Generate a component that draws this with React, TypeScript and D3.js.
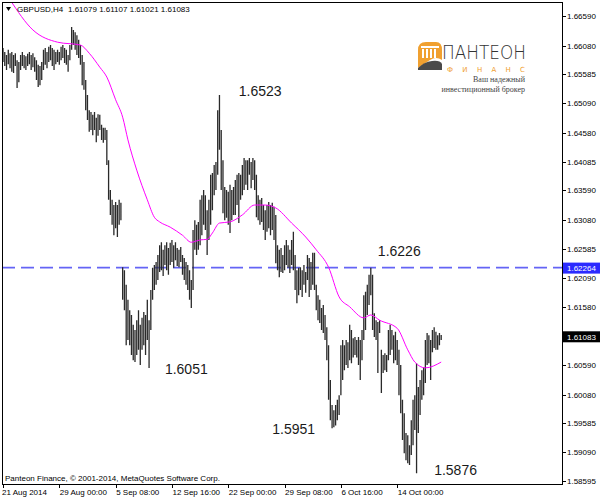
import React from "react";
import * as d3 from "d3";

const highs = [
  1.6604, 1.6597, 1.6592, 1.6601, 1.6595, 1.6597, 1.6592, 1.6595, 1.6583, 1.6580,
  1.6592, 1.6597, 1.6592, 1.6590, 1.6594, 1.6597, 1.6592, 1.6595, 1.6588, 1.6583,
  1.6575, 1.6573, 1.6580, 1.6601, 1.6604, 1.6597, 1.6606, 1.6609, 1.6604, 1.6601,
  1.6597, 1.6601, 1.6597, 1.6606, 1.6609, 1.6604, 1.6601, 1.6592, 1.6609, 1.6640,
  1.6635, 1.6631, 1.6626, 1.6618, 1.6609, 1.6592, 1.6580, 1.6549, 1.6523, 1.6497,
  1.6494, 1.6489, 1.6494, 1.6484, 1.6490, 1.6489, 1.6472, 1.6467, 1.6467, 1.6463,
  1.6411, 1.6360, 1.6343, 1.6334, 1.6339, 1.6334, 1.6343, 1.6338, 1.6227, 1.6222,
  1.6197, 1.6171, 1.6153, 1.6145, 1.6128, 1.6119, 1.6136, 1.6153, 1.6128, 1.6140,
  1.6150, 1.6145, 1.6171, 1.6136, 1.6188, 1.6226, 1.6231, 1.6236, 1.6248, 1.6265,
  1.6270, 1.6257, 1.6265, 1.6270, 1.6260, 1.6269, 1.6274, 1.6265, 1.6270, 1.6260,
  1.6257, 1.6262, 1.6248, 1.6243, 1.6236, 1.6231, 1.6222, 1.6205, 1.6291, 1.6308,
  1.6300, 1.6305, 1.6343, 1.6351, 1.6360, 1.6351, 1.6325, 1.6343, 1.6386, 1.6389,
  1.6403, 1.6408, 1.6497, 1.6523, 1.6463, 1.6411, 1.6365, 1.6360, 1.6357, 1.6369,
  1.6360, 1.6365, 1.6377, 1.6386, 1.6389, 1.6386, 1.6403, 1.6415, 1.6411, 1.6411,
  1.6415, 1.6408, 1.6415, 1.6411, 1.6386, 1.6351, 1.6343, 1.6346, 1.6334, 1.6325,
  1.6334, 1.6339, 1.6334, 1.6338, 1.6331, 1.6317, 1.6265, 1.6257, 1.6260, 1.6248,
  1.6265, 1.6274, 1.6265, 1.6257, 1.6274, 1.6288, 1.6248, 1.6222, 1.6226, 1.6227,
  1.6222, 1.6231, 1.6219, 1.6248, 1.6243, 1.6236, 1.6252, 1.6252, 1.6197, 1.6179,
  1.6171, 1.6157, 1.6162, 1.6145, 1.6124, 1.6093, 1.6033, 1.5990, 1.5981, 1.5990,
  1.5999, 1.6007, 1.6093, 1.6102, 1.6093, 1.6102, 1.6098, 1.6128, 1.6119, 1.6105,
  1.6107, 1.6102, 1.6107, 1.6102, 1.6119, 1.6179, 1.6185, 1.6197, 1.6214, 1.6226,
  1.6214, 1.6148, 1.6136, 1.6133, 1.6136, 1.6085, 1.6076, 1.6079, 1.6076, 1.6119,
  1.6128, 1.6119, 1.6110, 1.6116, 1.6102, 1.6085, 1.6059, 1.5999, 1.5976, 1.5942,
  1.5938, 1.5921, 1.5964, 1.5999, 1.6007, 1.6062, 1.6021, 1.6033, 1.6050, 1.6055,
  1.6102, 1.6114, 1.6110, 1.6102, 1.6119, 1.6124, 1.6116, 1.6110, 1.6114, 1.61107,
];

const lows = [
  1.6580, 1.6573, 1.6566, 1.6576, 1.6569, 1.6563, 1.6561, 1.6573, 1.6535, 1.6545,
  1.6566, 1.6573, 1.6569, 1.6566, 1.6573, 1.6576, 1.6566, 1.6571, 1.6563, 1.6549,
  1.6537, 1.6540, 1.6549, 1.6566, 1.6575, 1.6569, 1.6580, 1.6583, 1.6573, 1.6566,
  1.6576, 1.6580, 1.6575, 1.6583, 1.6587, 1.6578, 1.6575, 1.6563, 1.6583, 1.6601,
  1.6609, 1.6601, 1.6592, 1.6587, 1.6575, 1.6540, 1.6532, 1.6497, 1.6480, 1.6460,
  1.6463, 1.6454, 1.6463, 1.6442, 1.6453, 1.6463, 1.6446, 1.6441, 1.6446, 1.6403,
  1.6343, 1.6317, 1.6300, 1.6282, 1.6294, 1.6279, 1.6300, 1.6308, 1.6171, 1.6153,
  1.6093, 1.6102, 1.6093, 1.6076, 1.6067, 1.6064, 1.6076, 1.6085, 1.6059, 1.6085,
  1.6093, 1.6076, 1.6102, 1.6054, 1.6119, 1.6171, 1.6188, 1.6197, 1.6205, 1.6219,
  1.6222, 1.6212, 1.6231, 1.6222, 1.6214, 1.6231, 1.6236, 1.6226, 1.6239, 1.6229,
  1.6227, 1.6236, 1.6214, 1.6205, 1.6197, 1.6188, 1.6171, 1.6157, 1.6188, 1.6257,
  1.6248, 1.6257, 1.6265, 1.6282, 1.6300, 1.6291, 1.6248, 1.6274, 1.6300, 1.6325,
  1.6351, 1.6360, 1.6386, 1.6429, 1.6360, 1.6320, 1.6308, 1.6312, 1.6300, 1.6286,
  1.6308, 1.6317, 1.6317, 1.6334, 1.6303, 1.6343, 1.6351, 1.6360, 1.6369, 1.6360,
  1.6386, 1.6363, 1.6377, 1.6360, 1.6313, 1.6308, 1.6300, 1.6305, 1.6291, 1.6274,
  1.6288, 1.6294, 1.6282, 1.6291, 1.6274, 1.6234, 1.6222, 1.6210, 1.6219, 1.6217,
  1.6222, 1.6231, 1.6226, 1.6217, 1.6231, 1.6222, 1.6188, 1.6165, 1.6179, 1.6188,
  1.6176, 1.6197, 1.6183, 1.6205, 1.6176, 1.6188, 1.6197, 1.6188, 1.6153, 1.6136,
  1.6131, 1.6119, 1.6114, 1.6102, 1.6067, 1.5999, 1.5964, 1.5950, 1.5952, 1.5955,
  1.5964, 1.5973, 1.6007, 1.6033, 1.6050, 1.6059, 1.6054, 1.6067, 1.6062, 1.6072,
  1.6076, 1.6072, 1.6059, 1.6033, 1.6067, 1.6102, 1.6119, 1.6145, 1.6162, 1.6179,
  1.6119, 1.6107, 1.6102, 1.6045, 1.6114, 1.6011, 1.6045, 1.6050, 1.6047, 1.6067,
  1.6076, 1.6085, 1.6062, 1.6067, 1.6059, 1.6007, 1.5976, 1.5930, 1.5907, 1.5895,
  1.5890, 1.5887, 1.5904, 1.5921, 1.5947, 1.5873, 1.5942, 1.5973, 1.5999, 1.6007,
  1.6028, 1.6059, 1.6062, 1.6033, 1.6081, 1.6088, 1.6085, 1.6085, 1.6093, 1.61021,
];

const maBars = [4, 17, 31, 44, 49, 55, 59, 64, 68, 71, 76, 82, 86, 89, 95, 102, 107, 112, 116, 119, 123, 129, 136, 143, 149, 155, 164, 172, 178, 185, 191, 197, 205, 209, 214, 224, 230, 234, 240, 249];
const maValues = [1.6687, 1.6635, 1.6614, 1.6609, 1.6595, 1.6571, 1.6554, 1.6515, 1.6485, 1.6446, 1.6394, 1.6343, 1.6313, 1.6305, 1.6296, 1.6282, 1.6270, 1.6274, 1.6275, 1.6286, 1.6303, 1.6305, 1.6317, 1.6334, 1.6334, 1.6329, 1.6303, 1.6279, 1.6257, 1.6227, 1.6176, 1.6159, 1.6140, 1.6145, 1.6136, 1.6122, 1.6085, 1.6064, 1.6054, 1.6064];

const yTicks = [1.6659, 1.6608, 1.65585, 1.6509, 1.6458, 1.64085, 1.6359, 1.6308, 1.62585, 1.6209, 1.6158, 1.6059, 1.6008, 1.59585, 1.5909, 1.58595];

const xTickBars = [0, 32, 64, 96, 128, 160, 192, 224];
const xTickLabels = ["21 Aug 2014", "29 Aug 00:00", "5 Sep 08:00", "12 Sep 16:00", "22 Sep 00:00", "29 Sep 08:00", "6 Oct 16:00", "14 Oct 00:00"];

const levelPrice = 1.62264;
const lastClose = 1.61083;
const headerSymbol = "GBPUSD,H4";
const headerValues = "1.61079 1.61107 1.61021 1.61083";

const annotations = [
  { text: "1.6523", bar: 134, price: 1.6521 },
  { text: "1.6051", bar: 92, price: 1.6044 },
  { text: "1.5951", bar: 153, price: 1.5941 },
  { text: "1.5876", bar: 245, price: 1.5870 },
  { text: "1.6226", bar: 213, price: 1.6246 },
];

const PL = 2, PT = 2, PR = 562, PB = 484;

export default function App() {
  const x = d3.scaleLinear().domain([0, 249]).range([3, 441.2]);
  const y = d3.scaleLinear().domain([1.58595, 1.6659]).range([481, 16]);
  const fmt = d3.format(".5f");
  const axisFont = "'Liberation Sans', Arial, sans-serif";

  const maLine = d3
    .line<number>()
    .x((_, i) => x(maBars[i]))
    .y((d) => y(d))
    .curve(d3.curveMonotoneX)(maValues);

  const barPath = highs
    .map((h, i) => `M${x(i).toFixed(2)},${y(h).toFixed(2)}V${y(lows[i]).toFixed(2)}`)
    .join("");

  return (
    <svg
      width={600}
      height={500}
      style={{ position: "fixed", left: 0, top: 0, background: "#fff" }}
      fontFamily={axisFont}
    >
      <defs>
        <clipPath id="plot">
          <rect x={PL + 1} y={PT + 1} width={PR - PL - 1} height={PB - PT - 1} />
        </clipPath>
      </defs>
      <rect x={0} y={0} width={600} height={500} fill="#fff" />

      {/* Logo */}
      <g>
        <path d="M418,68 L418,50 Q418,42 426,42 L436,42 Q442,42 442,50 L442,60 Q436,56 430,60 Q424,64 418,68 Z" fill="#f0a030" />
        <rect x={421} y={46} width={18} height={2} fill="#fff" />
        {[422, 426, 430, 434].map((cx) => (
          <rect key={cx} x={cx} y={49} width={2} height={9} fill="#fff" />
        ))}
        <path d="M418,68 Q424,62 432,61 Q440,60 442,64 L442,70 L418,70 Z" fill="#4a4a4a" />
        <text x={442} y={59} fontSize={20} fill="#333" textLength={84} lengthAdjust="spacingAndGlyphs" fontFamily="'DejaVu Sans', sans-serif" fontWeight={300}>
          ПАНТЕОН
        </text>
        <text x={447} y={72} fontSize={7} fill="#f0a030" textLength={78} fontFamily="'DejaVu Sans', sans-serif">
          Ф И Н А Н С
        </text>
        <text x={525} y={82} fontSize={8} fill="#444" textAnchor="end" fontFamily="'Liberation Serif', serif">
          Ваш надежный
        </text>
        <text x={525} y={92} fontSize={8} fill="#444" textAnchor="end" fontFamily="'Liberation Serif', serif">
          инвестиционный брокер
        </text>
      </g>

      {/* Level line */}
      <line x1={PL} x2={PR} y1={y(levelPrice)} y2={y(levelPrice)} stroke="#6464f5" strokeWidth={1.6} strokeDasharray="13,6" />

      <g clipPath="url(#plot)">
        <path d={barPath} stroke="#2a2a2a" strokeWidth={1.3} fill="none" />
        <path d={maLine || ""} stroke="#ff00ff" strokeWidth={1} fill="none" />
      </g>

      {/* Frame */}
      <rect x={PL + 0.5} y={PT + 0.5} width={PR - PL} height={PB - PT} fill="none" stroke="#000" strokeWidth={1} />

      {/* Right axis */}
      {yTicks.map((t) => (
        <g key={t}>
          <line x1={PR} x2={PR + 4} y1={Math.round(y(t)) + 0.5} y2={Math.round(y(t)) + 0.5} stroke="#000" />
          <text x={PR + 5} y={y(t) + 3} fontSize={8} fill="#000">
            {fmt(t)}
          </text>
        </g>
      ))}
      <rect x={PR + 1} y={y(levelPrice) - 5} width={37} height={11} fill="#2b2bff" />
      <text x={PR + 5} y={y(levelPrice) + 3.5} fontSize={8} fill="#fff">
        {fmt(levelPrice)}
      </text>
      <rect x={PR + 1} y={y(lastClose) - 5} width={37} height={11} fill="#000" />
      <text x={PR + 5} y={y(lastClose) + 3.5} fontSize={8} fill="#fff">
        {fmt(lastClose)}
      </text>

      {/* Bottom axis */}
      {xTickBars.map((b, i) => (
        <g key={b}>
          <line x1={Math.round(x(b)) + 0.5} x2={Math.round(x(b)) + 0.5} y1={PB} y2={PB + 4} stroke="#000" />
          <text x={x(b) - (i === 0 ? 1 : -0.5)} y={495} fontSize={8} fill="#000">
            {xTickLabels[i]}
          </text>
        </g>
      ))}

      {/* Header */}
      <path d="M6,7 L11,7 L8.5,11 Z" fill="#000" />
      <text x={17} y={12} fontSize={8} fill="#000">{headerSymbol}</text>
      <text x={68} y={12} fontSize={8} fill="#000">{headerValues}</text>

      {/* Copyright */}
      <text x={5} y={481} fontSize={8} fill="#000">
        Panteon Finance, © 2001-2014, MetaQuotes Software Corp.
      </text>

      {/* Annotations */}
      {annotations.map((a) => (
        <text key={a.text} x={x(a.bar)} y={y(a.price)} fontSize={14} fill="#1a1a1a">
          {a.text}
        </text>
      ))}
    </svg>
  );
}
